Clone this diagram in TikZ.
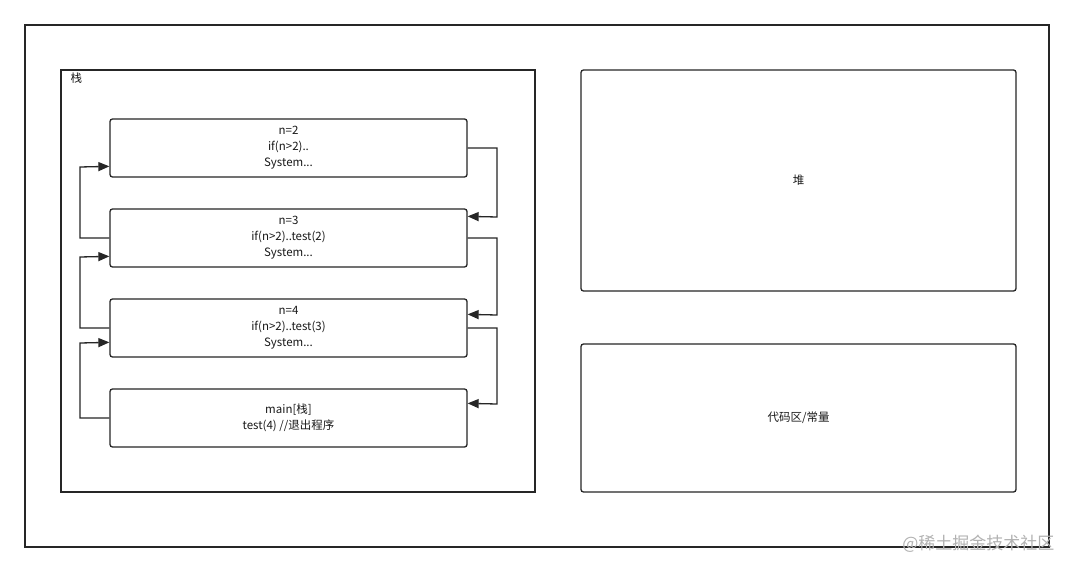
\documentclass[tikz,border=0pt]{standalone}
\usepackage{fontspec}
\setmainfont{Noto Sans CJK SC}
\usetikzlibrary{arrows.meta}
\begin{document}
\begin{tikzpicture}[x=1pt,y=-1pt,
  frame/.style={draw=black!85,line width=1.3pt},
  box/.style={draw=black!85,line width=1.3pt,rounded corners=2.5pt,fill=white},
  txt/.style={font=\fontsize{11.5}{16}\selectfont,align=center,text=black!90},
  conn/.style={draw=black!85,line width=1.3pt,-{Triangle[length=11pt,width=9pt]}}]
\useasboundingbox[fill=white] (0,0) rectangle (1074,572);
\draw[frame] (25,25) rectangle (1049,547);
\draw[frame] (61,70) rectangle (535,492);
\node[txt,anchor=west] (stk) at (67,78) {栈};
\node[box,minimum width=357pt,minimum height=58pt,txt] (b1) at (288.5,148) {n=2\\if(n>2)..\\System...};
\node[box,minimum width=357pt,minimum height=58pt,txt] (b2) at (288.5,238) {n=3\\if(n>2)..test(2)\\System...};
\node[box,minimum width=357pt,minimum height=58pt,txt] (b3) at (288.5,328) {n=4\\if(n>2)..test(3)\\System...};
\node[box,minimum width=357pt,minimum height=58pt,txt] (b4) at (288.5,418) {main[栈]\\test(4) //退出程序};
\node[box,minimum width=435pt,minimum height=221pt,txt] (heap) at (798.5,180.5) {堆};
\node[box,minimum width=435pt,minimum height=148pt,txt] (code) at (798.5,418) {代码区/常量};
\draw[conn] (b1.east) -- (497,148) -- (497,217) -- ([yshift=-8pt]b2.north east);
\draw[conn] (b2.east) -- (497,238) -- (497,315) -- ([yshift=-16pt]b3.north east);
\draw[conn] (b3.east) -- (497,328) -- (497,404) -- ([yshift=-15pt]b4.north east);
\draw[conn] (b2.west) -- (80,238) -- (80,167) -- ([yshift=-48pt]b1.north west);
\draw[conn] (b3.west) -- (80,328) -- (80,257) -- ([yshift=-48pt]b2.north west);
\draw[conn] (b4.west) -- (80,418) -- (80,343) -- ([yshift=-44pt]b3.north west);
\node[font=\fontsize{17}{19}\selectfont,text=black!30,anchor=east] (wm) at (1058,544) {@稀土掘金技术社区};
\end{tikzpicture}
\end{document}
